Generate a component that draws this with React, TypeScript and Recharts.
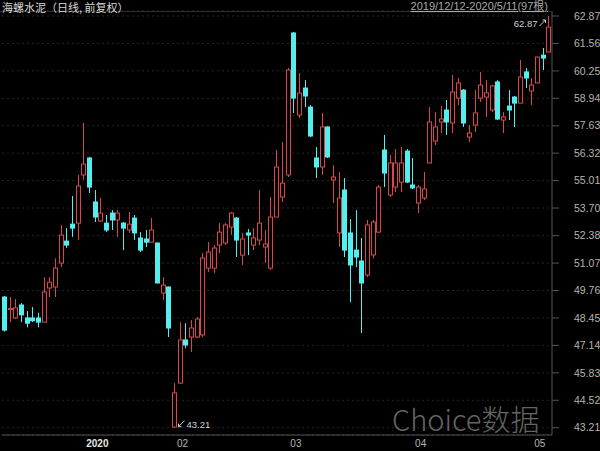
import { ComposedChart, Bar, XAxis, YAxis, CartesianGrid } from 'recharts'

const dates = [
  '2019-12-12', '2019-12-13', '2019-12-16', '2019-12-17', '2019-12-18', '2019-12-19', '2019-12-20',
  '2019-12-23', '2019-12-24', '2019-12-25', '2019-12-26', '2019-12-27', '2019-12-30', '2019-12-31',
  '2020-01-02', '2020-01-03', '2020-01-06', '2020-01-07', '2020-01-08', '2020-01-09', '2020-01-10',
  '2020-01-13', '2020-01-14', '2020-01-15', '2020-01-16', '2020-01-17', '2020-01-20', '2020-01-21',
  '2020-01-22', '2020-01-23',
  '2020-02-03', '2020-02-04', '2020-02-05', '2020-02-06', '2020-02-07', '2020-02-10', '2020-02-11',
  '2020-02-12', '2020-02-13', '2020-02-14', '2020-02-17', '2020-02-18', '2020-02-19', '2020-02-20',
  '2020-02-21', '2020-02-24', '2020-02-25', '2020-02-26', '2020-02-27', '2020-02-28',
  '2020-03-02', '2020-03-03', '2020-03-04', '2020-03-05', '2020-03-06', '2020-03-09', '2020-03-10',
  '2020-03-11', '2020-03-12', '2020-03-13', '2020-03-16', '2020-03-17', '2020-03-18', '2020-03-19',
  '2020-03-20', '2020-03-23', '2020-03-24', '2020-03-25', '2020-03-26', '2020-03-27', '2020-03-30',
  '2020-03-31',
  '2020-04-01', '2020-04-02', '2020-04-03', '2020-04-07', '2020-04-08', '2020-04-09', '2020-04-10',
  '2020-04-13', '2020-04-14', '2020-04-15', '2020-04-16', '2020-04-17', '2020-04-20', '2020-04-21',
  '2020-04-22', '2020-04-23', '2020-04-24', '2020-04-27', '2020-04-28', '2020-04-29', '2020-04-30',
  '2020-05-06', '2020-05-07', '2020-05-08', '2020-05-11',
]

const opens = [
  49.45, 48.85, 48.45, 49.07, 48.45, 48.45, 48.45, 48.25, 49.88, 49.93, 51.07, 52.12, 52.93, 52.98,
  55.28, 56.09, 53.99, 53.08, 52.98, 53.46, 53.13, 52.98, 52.65, 53.22, 52.27, 52.22, 52.07, 52.03,
  49.64, 49.93,
  43.24, 45.34, 47.4, 47.54, 47.54, 47.64, 50.83, 50.83, 51.93, 52.03, 52.79, 53.22, 51.45, 52.51,
  51.93, 52.17, 51.84, 50.83, 53.27, 54.23,
  55.28, 62.06, 58.14, 59.43, 58.52, 56.09, 55.66, 57.57, 55.04, 52.51, 54.56, 52.51, 51.69, 51.17,
  50.5, 51.46, 52.55, 56.47, 54.32, 54.7, 54.94, 56.42,
  54.8, 53.94, 54.18, 55.85, 56.9, 57.81, 58.38, 57.76, 58.95, 59.33, 57.09, 57.66, 58.95, 59.0,
  58.38, 59.72, 57.9, 58.57, 59.0, 58.71, 60.2,
  59.29, 59.67, 61.0, 61.15,
]

const highs = [
  49.5, 49.45, 49.35, 49.16, 48.78, 48.97, 48.7, 50.4, 50.4, 51.3, 52.89, 52.74, 54.27, 55.28,
  57.76, 56.14, 54.56, 54.18, 53.37, 53.6, 53.6, 53.03, 53.51, 53.37, 52.55, 52.65, 53.22, 52.05,
  50.4, 49.95,
  45.34, 48.25, 48.2, 48.35, 48.5, 51.55, 52.07, 51.93, 52.98, 52.98, 53.51, 53.27, 52.51, 52.7,
  52.74, 54.56, 52.65, 54.23, 56.47, 56.85,
  60.39, 62.11, 60.15, 59.81, 58.62, 56.61, 58.24, 57.6, 55.75, 55.42, 55.13, 53.17, 53.6, 52.27,
  53.13, 53.13, 54.8, 57.19, 56.23, 56.52, 56.61, 56.52,
  56.09, 54.8, 55.42, 58.52, 58.28, 58.57, 58.86, 60.05, 59.91, 59.38, 57.66, 59.33, 60.2, 59.81,
  59.57, 59.81, 58.28, 59.33, 59.05, 60.77, 60.39,
  59.91, 60.93, 61.34, 62.87,
]

const lows = [
  47.8, 48.25, 48.4, 48.25, 48.0, 48.25, 48.0, 48.25, 49.45, 49.45, 50.88, 51.79, 52.32, 52.17,
  55.04, 54.42, 53.03, 53.03, 52.55, 52.65, 52.32, 51.69, 52.51, 52.17, 51.6, 51.84, 52.07, 50.1,
  49.3, 47.54,
  43.21, 45.3, 47.0, 46.82, 47.49, 47.54, 50.64, 50.6, 51.55, 51.93, 52.41, 51.36, 50.98, 51.45,
  51.69, 51.93, 51.07, 50.74, 53.27, 53.99,
  55.18, 58.24, 58.0, 58.52, 57.09, 55.13, 55.28, 56.09, 53.94, 51.84, 51.36, 49.21, 50.88, 47.73,
  50.4, 51.3, 52.51, 54.7, 54.23, 54.46, 54.46, 54.89,
  54.6, 53.46, 54.08, 55.85, 56.71, 57.28, 57.19, 57.28, 58.62, 57.57, 56.85, 57.33, 58.76, 58.05,
  58.28, 57.9, 57.28, 57.9, 57.57, 58.71, 59.43,
  58.62, 59.67, 60.29, 61.15,
]

const closes = [
  47.87, 48.9, 48.93, 48.6, 48.2, 48.32, 48.25, 49.69, 50.16, 50.83, 52.41, 51.93, 52.74, 54.75,
  55.8, 54.7, 53.27, 53.46, 52.65, 53.13, 53.46, 52.74, 52.93, 52.51, 51.69, 52.07, 52.65, 50.12,
  50.02, 47.97,
  44.87, 47.4, 47.16, 47.97, 48.4, 51.31, 51.6, 51.79, 52.55, 52.89, 53.46, 52.17, 52.22, 52.41,
  52.27, 52.98, 51.98, 53.27, 55.66, 54.89,
  60.29, 58.95, 59.19, 59.05, 57.14, 55.66, 57.57, 56.14, 55.18, 54.18, 51.69, 50.98, 51.36, 50.12,
  52.89, 53.03, 54.7, 55.37, 55.85, 55.85, 55.85, 54.94,
  54.66, 54.7, 54.61, 57.81, 57.57, 57.95, 57.81, 59.24, 59.67, 57.76, 57.28, 58.24, 59.57, 59.2,
  59.53, 57.95, 58.05, 58.38, 58.71, 59.96, 59.91,
  59.57, 60.91, 60.86, 62.34,
]

const priceTicks = [
  43.21, 44.52, 45.83, 47.14, 48.45, 49.76, 51.07, 52.38, 53.7, 55.01, 56.32, 57.63, 58.94, 60.25,
  61.56, 62.87,
]
const monthTicks = ['2020-01-02', '2020-02-03', '2020-03-02', '2020-04-01', '2020-05-06']
const monthLabels = ['2020', '02', '03', '04', '05']

const UP = '#d8474c'
const DOWN = '#55eeee'
const AXIS = '#555'
const TEXT = '#b4b4b4'
const FONT = '"Liberation Sans", Arial, "Noto Sans CJK SC", sans-serif'

const data = dates.map((date, i) => ({
  date,
  open: opens[i],
  high: highs[i],
  low: lows[i],
  close: closes[i],
  range: [lows[i], highs[i]],
}))

const maxHigh = Math.max(...highs)
const minLow = Math.min(...lows)

function Candle(props: any) {
  const { x, y, width, height, payload } = props
  if (!payload) return null
  const { open, high, low, close } = payload
  const top = Math.min(y, y + height)
  const h = Math.abs(height)
  const k = h / (high - low)
  const py = (v: number) => top + (high - v) * k
  const c = Math.floor(x + width / 2) + 0.5
  const up = close >= open
  const color = up ? UP : DOWN
  const bTop = py(Math.max(open, close))
  const bBot = py(Math.min(open, close))
  const hy = py(high)
  const ly = py(low)

  return (
    <g>
      {up ? (
        <>
          <line x1={c} x2={c} y1={hy} y2={bTop} stroke={color} />
          <line x1={c} x2={c} y1={bBot} y2={ly} stroke={color} />
          <rect x={c - 2} y={bTop} width={4} height={Math.max(bBot - bTop, 0.8)} fill="#000" stroke={color} />
        </>
      ) : (
        <>
          <line x1={c} x2={c} y1={hy} y2={ly} stroke={color} />
          <rect x={c - 2.5} y={bTop - 0.5} width={5} height={Math.max(bBot - bTop, 1) + 1} fill={color} />
        </>
      )}
      {high === maxHigh && (
        <g>
          <text x={c - 11} y={hy + 11} textAnchor="end" fontSize={9.5} fill="#d0d0d0" fontFamily={FONT}>
            {high.toFixed(2)}
          </text>
          <line x1={c - 9} y1={hy + 10} x2={c - 3} y2={hy + 4} stroke="#d0d0d0" />
          <polyline points={`${c - 6},${hy + 4} ${c - 3},${hy + 4} ${c - 3},${hy + 7}`} fill="none" stroke="#d0d0d0" />
        </g>
      )}
      {low === minLow && (
        <g>
          <line x1={c + 10} y1={ly - 7} x2={c + 4} y2={ly - 1} stroke="#d0d0d0" />
          <polyline points={`${c + 4},${ly - 4} ${c + 4},${ly - 1} ${c + 7},${ly - 1}`} fill="none" stroke="#d0d0d0" />
          <text x={c + 12} y={ly} fontSize={9.5} fill="#d0d0d0" fontFamily={FONT}>
            {low.toFixed(2)}
          </text>
        </g>
      )}
    </g>
  )
}

function MonthTick(props: any) {
  const { x, payload } = props
  const idx = monthTicks.indexOf(payload.value)
  const first = idx === 0
  return (
    <text
      x={x + 2}
      y={447}
      fontSize={10}
      fontWeight={first ? 'bold' : 'normal'}
      fill={first ? '#e6e6e6' : TEXT}
      fontFamily={FONT}
    >
      {monthLabels[idx]}
    </text>
  )
}

export default function App() {
  return (
    <div style={{ position: 'fixed', left: 0, top: 0, width: 600, height: 451, background: '#000', overflow: 'hidden' }}>
      <ComposedChart width={600} height={451} data={data} margin={{ top: 11, right: 0, bottom: 0, left: 2 }}>
        <CartesianGrid vertical={false} stroke="#262626" strokeDasharray="2 3" />
        <XAxis
          dataKey="date"
          ticks={monthTicks}
          interval={0}
          height={16}
          tickLine={false}
          axisLine={{ stroke: AXIS }}
          tick={<MonthTick />}
        />
        <YAxis
          orientation="right"
          type="number"
          width={48}
          domain={[42.861, 63.109]}
          allowDataOverflow
          ticks={priceTicks}
          tickFormatter={(v: number) => v.toFixed(2)}
          tickSize={7}
          tickMargin={15}
          tick={{ fill: TEXT, fontSize: 10.5, fontFamily: FONT }}
          axisLine={{ stroke: AXIS }}
          tickLine={{ stroke: AXIS }}
        />
        <Bar dataKey="range" barSize={5} shape={<Candle />} isAnimationActive={false} />
      </ComposedChart>
      <div style={{ position: 'absolute', left: 0, top: 11, width: 552, height: 1, background: '#2e2e2e' }} />
      <svg width={600} height={18} style={{ position: 'absolute', left: 0, top: 0 }}>
        <text x={2} y={12} fontSize={11} fill="#d8d8d8" fontFamily='"Noto Sans CJK SC", sans-serif'>
          海螺水泥（日线, 前复权）
        </text>
        <text x={548} y={10} textAnchor="end" fontSize={11} fill="#a8a8a8" fontFamily={FONT} textDecoration="underline">
          2019/12/12-2020/5/11(97根)
        </text>
      </svg>
      <svg width={180} height={50} style={{ position: 'absolute', left: 390, top: 392 }}>
        <text x={2} y={39} fontSize={29} fill="#777" opacity={0.85} fontWeight={300} fontFamily='"Noto Sans CJK SC", "Liberation Sans", sans-serif'>
          Choice数据
        </text>
      </svg>
    </div>
  )
}
